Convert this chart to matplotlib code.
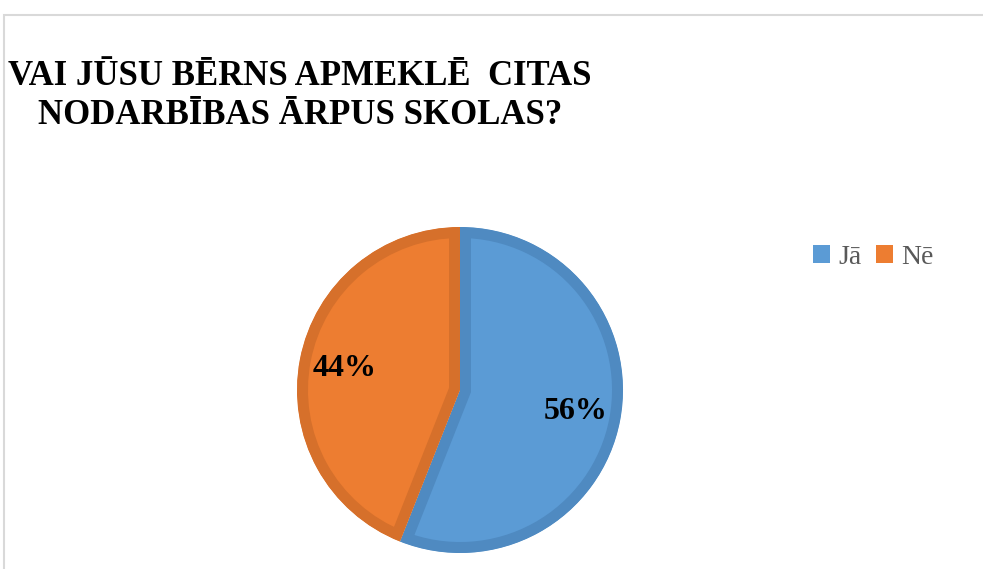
import matplotlib.pyplot as plt
from matplotlib.patches import Rectangle

# Dati
categories = ['Jā', 'Nē']
values = [56, 44]
fill_colors = ['#5B9BD5', '#ED7D31']
edge_colors = ['#4F8AC1', '#D6702B']

title = 'VAI JŪSU BĒRNS APMEKLĒ  CITAS\nNODARBĪBAS ĀRPUS SKOLAS?'

W, H = 983, 569
fig = plt.figure(figsize=(W / 100, H / 100), dpi=100)
ax = fig.add_axes([0, 0, 1, 1])
ax.set_xlim(0, W)
ax.set_ylim(0, H)
ax.set_aspect('equal')

# rāmis
fig.patches.append(Rectangle((4 / W, -0.1), 1.2, (H - 15) / H + 0.1,
                             transform=fig.transFigure, fill=False,
                             edgecolor='#D9D9D9', linewidth=1.5))

cx, cy, r = 460, H - 390, 163
border = 11  # px, iekšējā mala
wedges, texts, autotexts = ax.pie(
    values, colors=fill_colors, startangle=90, counterclock=False,
    center=(cx, cy), radius=r, autopct='%1.0f%%',
    pctdistance=0.72, frame=True,
    wedgeprops=dict(linewidth=2 * border * 0.72, joinstyle='miter'),
    textprops=dict(family='Liberation Serif', fontsize=23, fontweight='bold',
                   color='black'))
ax.set_xlim(0, W)
ax.set_ylim(0, H)
ax.axis('off')
# mala tikai iekšpusē: apgriežam līniju pa pašu sektoru
for w, ec in zip(wedges, edge_colors):
    w.set_edgecolor(ec)
    w.set_clip_on(True)
    w.set_clip_path(w)

fig.text(300 / W, 1 - 60 / H, title, ha='center', va='top',
         family='Liberation Serif', fontsize=25, fontweight='bold',
         linespacing=1.22)

leg = ax.legend(wedges, categories, loc='center left', ncol=2,
                bbox_to_anchor=(813 / W, 1 - 257 / H), frameon=False,
                handlelength=0.62, handleheight=0.62, handletextpad=0.3,
                columnspacing=0.5, borderaxespad=0, borderpad=0,
                prop=dict(family='Liberation Serif', size=20))
for t in leg.get_texts():
    t.set_color('#595959')
for h, c in zip(leg.legend_handles, fill_colors):
    h.set_edgecolor(c)
    h.set_linewidth(0)
    h.set_clip_path(None)

fig.savefig('out.png', dpi=100)
